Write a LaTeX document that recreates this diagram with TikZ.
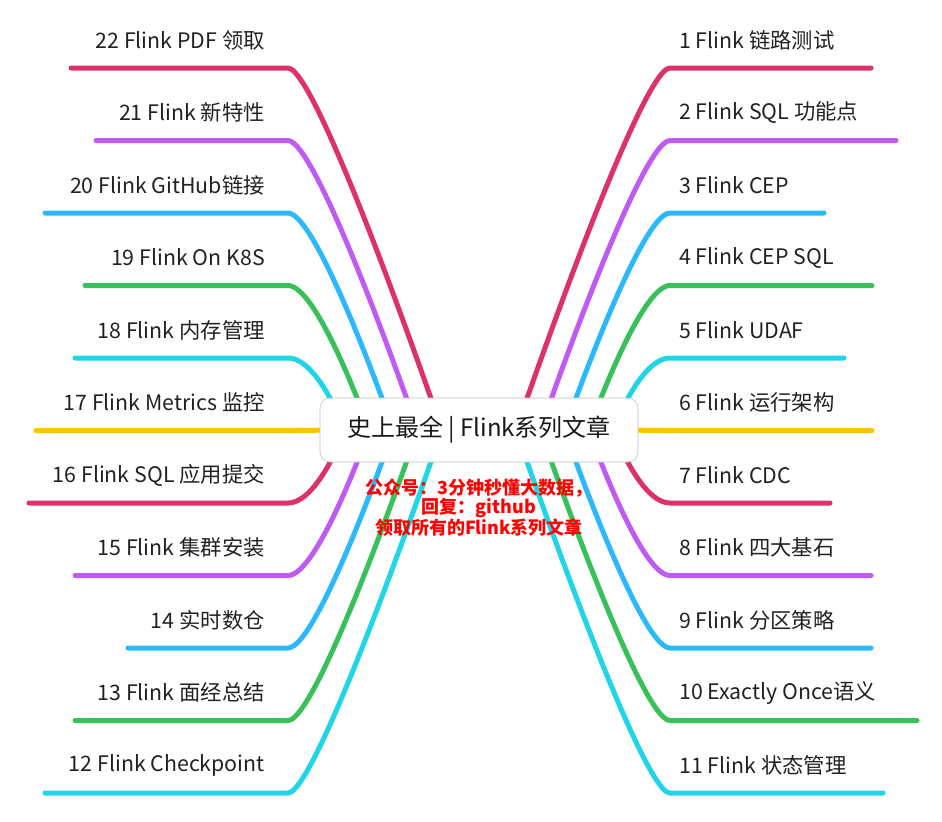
\documentclass[tikz,border=0pt]{standalone}
\usepackage{fontspec}
\setmainfont{Noto Sans CJK SC}
\usetikzlibrary{positioning}

\definecolor{branchred}{HTML}{DD3169}
\definecolor{branchpurple}{HTML}{BF5AF2}
\definecolor{branchblue}{HTML}{2BB8FC}
\definecolor{branchgreen}{HTML}{38C15B}
\definecolor{branchcyan}{HTML}{1FD5E6}
\definecolor{branchyellow}{HTML}{FFC400}

\begin{document}
\begin{tikzpicture}[x=0.75pt,y=-0.75pt,
  branch/.style={line width=3.75pt,line cap=round},
  topic/.style={font=\fontsize{16}{18}\selectfont,inner sep=0pt,text=black!87}]
  \useasboundingbox (0,0) rectangle (942,821);

  % right branches
  \foreach \k/\xe/\col/\txt in {1/871/branchred/{1 Flink 链路测试},
      2/896/branchpurple/{2 Flink SQL 功能点}, 3/824/branchblue/{3 Flink CEP},
      4/872/branchgreen/{4 Flink CEP SQL}, 5/844/branchcyan/{5 Flink UDAF},
      6/872/branchyellow/{6 Flink 运行架构}, 7/830/branchred/{7 Flink CDC},
      8/871/branchpurple/{8 Flink 四大基石}, 9/871/branchblue/{9 Flink 分区策略},
      10/917/branchgreen/{10 Exactly Once语义}, 11/883/branchcyan/{11 Flink 状态管理}}{
    \pgfmathsetmacro\yk{68+(\k-1)*72.5}
    \pgfmathsetmacro\xs{479+37+(5-abs(\k-6))*24.25}
    \coordinate (s\k) at (\xs,430);
    \coordinate (c\k) at (670,\yk);
    \coordinate (e\k) at (\xe,\yk);
    \draw[branch,\col] (s\k) .. controls (s\k) and (640,\yk) .. (c\k) -- (e\k);
    \node[topic,anchor=west] (t\k) at (679,\yk-28) {\txt};
  }

  % left branches
  \foreach \k/\xe/\col/\txt in {12/45/branchcyan/{12 Flink Checkpoint},
      13/75/branchgreen/{13 Flink 面经总结}, 14/128/branchblue/{14 实时数仓},
      15/75/branchpurple/{15 Flink 集群安装}, 16/29/branchred/{16 Flink SQL 应用提交},
      17/36/branchyellow/{17 Flink Metrics 监控}, 18/75/branchcyan/{18 Flink 内存管理},
      19/85/branchgreen/{19 Flink On K8S}, 20/45/branchblue/{20 Flink GitHub链接},
      21/96/branchpurple/{21 Flink 新特性}, 22/71/branchred/{22 Flink PDF 领取}}{
    \pgfmathsetmacro\yk{68+(22-\k)*72.5}
    \pgfmathsetmacro\xs{479-37-(5-abs(\k-17))*24.25}
    \coordinate (s\k) at (\xs,430);
    \coordinate (c\k) at (288,\yk);
    \coordinate (e\k) at (\xe,\yk);
    \draw[branch,\col] (s\k) .. controls (s\k) and (318,\yk) .. (c\k) -- (e\k);
    \node[topic,anchor=east] (t\k) at (265,\yk-28) {\txt};
  }

  \node[draw=black!25,fill=white,rounded corners=7.5pt,minimum width=238.5pt,
    minimum height=48pt,font=\fontsize{18}{21}\selectfont,text=black!90] (main) at (479,430)
    {史上最全 | Flink系列文章};
  \node[below=12pt of main,inner sep=0pt,align=center,text=red,
    font=\bfseries\fontsize{13.5}{13.2}\selectfont] (note)
    {公众号：3分钟秒懂大数据，\\回复：github\\领取所有的Flink系列文章};
\end{tikzpicture}
\end{document}
